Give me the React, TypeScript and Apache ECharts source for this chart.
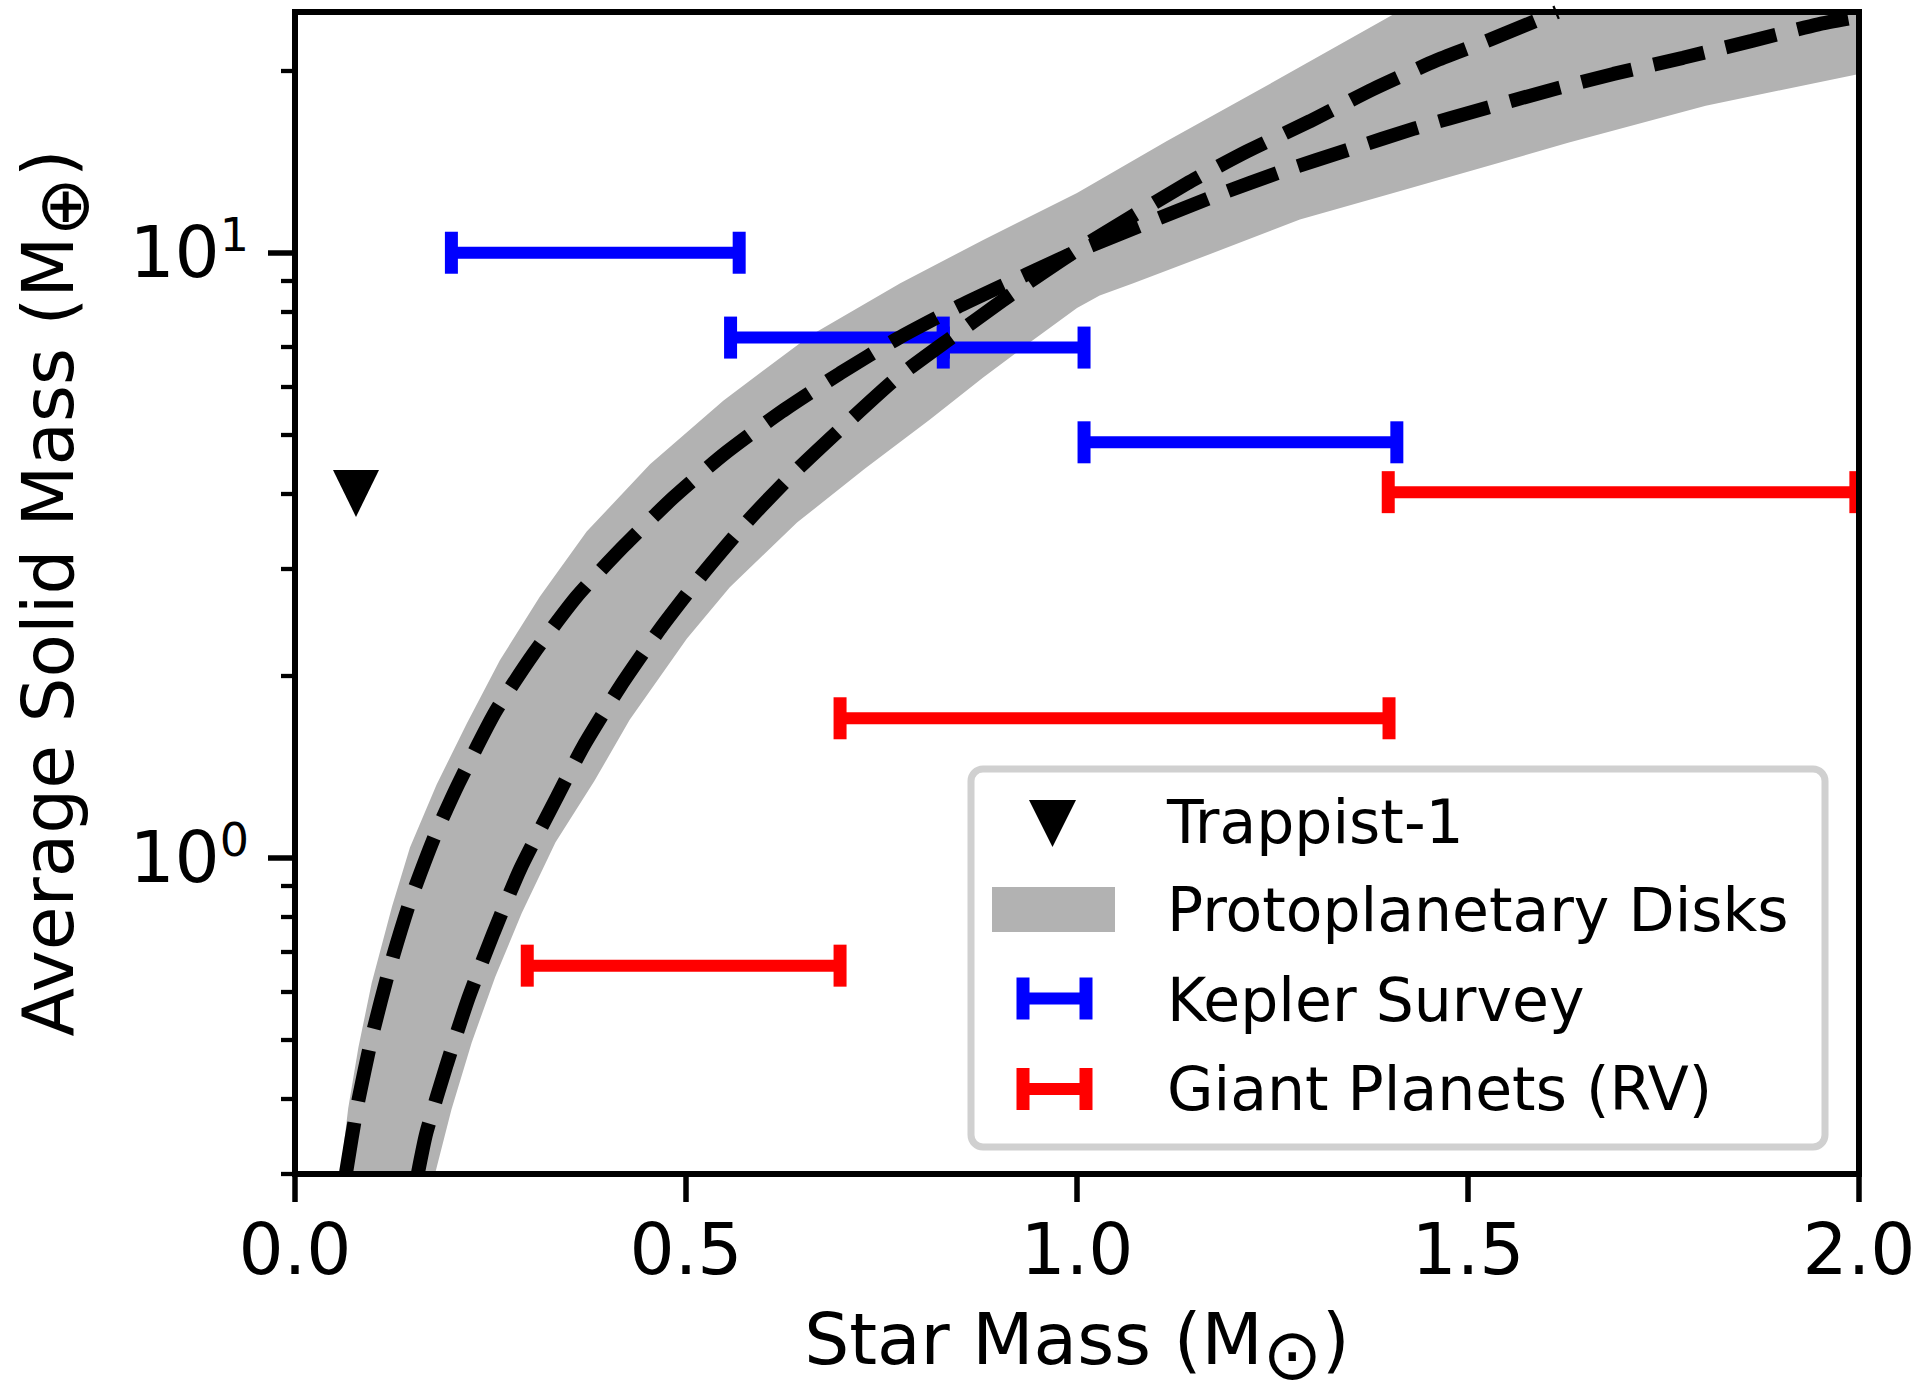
import React, { useEffect, useRef } from "react";
import * as echarts from "echarts";

// ---- Kepler survey: stellar-mass bins and average solid mass (Earth masses)
const keplerStarMin = [0.2, 0.557, 0.829, 1.009];
const keplerStarMax = [0.568, 0.829, 1.009, 1.409];
const keplerSolidMass = [10.0, 7.24, 6.97, 4.86];

// ---- Giant planets (RV): stellar-mass bins and average solid mass
const rvStarMin = [0.297, 0.697, 1.398];
const rvStarMax = [0.697, 1.399, 1.996];
const rvSolidMass = [0.663, 1.7, 4.02];

// ---- Trappist-1
const trappistStarMass = [0.078];
const trappistSolidMass = [4.0];

// ---- Disk solid-mass relation, shallow branch
const diskShallowStar = [
  0.065, 0.079, 0.099, 0.121, 0.147, 0.179, 0.209, 0.256, 0.305, 0.36, 0.42,
  0.484, 0.548, 0.622, 0.697, 0.771, 0.85, 0.927, 1.0, 1.179, 1.264, 1.347,
  1.432, 1.52, 1.604, 1.686, 1.775, 1.863, 1.948, 2.0,
];
const diskShallowSolid = [
  0.3, 0.385, 0.51, 0.657, 0.846, 1.088, 1.325, 1.741, 2.174, 2.7, 3.27, 3.94,
  4.64, 5.46, 6.32, 7.22, 8.17, 9.1, 10.05, 12.45, 13.65, 14.8, 16.05, 17.3,
  18.55, 19.75, 21.0, 22.4, 23.85, 24.55,
];

// ---- Disk solid-mass relation, steep branch
const diskSteepStar = [
  0.157, 0.168, 0.194, 0.222, 0.254, 0.288, 0.335, 0.369, 0.416, 0.467, 0.52,
  0.578, 0.639, 0.705, 0.769, 0.842, 0.914, 1.0, 1.14, 1.217, 1.298, 1.379,
  1.46, 1.528, 1.614,
];
const diskSteepSolid = [
  0.3, 0.351, 0.455, 0.587, 0.752, 0.958, 1.26, 1.53, 1.92, 2.39, 2.93, 3.59,
  4.34, 5.22, 6.2, 7.28, 8.5, 10.1, 13.0, 14.7, 16.5, 18.65, 20.8, 22.49,
  25.0,
];

// ---- Protoplanetary disk band: upper and lower edges
const bandUpperStar = [
  0.058, 0.068, 0.081, 0.098, 0.124, 0.147, 0.181, 0.22, 0.262, 0.313, 0.373,
  0.454, 0.548, 0.659, 0.774, 0.88, 1.0, 1.115, 1.243, 1.41, 2.0,
];
const bandUpperSolid = [
  0.3, 0.385, 0.485, 0.62, 0.83, 1.04, 1.32, 1.67, 2.12, 2.7, 3.46, 4.47, 5.7,
  7.3, 8.9, 10.5, 12.55, 15.3, 18.9, 25.0, 25.0,
];
const bandLowerStar = [
  0.179, 0.2, 0.226, 0.256, 0.29, 0.333, 0.383, 0.428, 0.501, 0.556, 0.642,
  0.729, 0.812, 0.88, 0.94, 1.0, 1.029, 1.072, 1.157, 1.285, 1.4, 1.541, 1.628,
  1.804, 2.0,
];
const bandLowerSolid = [
  0.3, 0.383, 0.495, 0.635, 0.81, 1.06, 1.34, 1.69, 2.3, 2.8, 3.58, 4.4, 5.3,
  6.22, 7.11, 8.1, 8.5, 8.9, 9.8, 11.35, 12.5, 14.1, 15.2, 17.5, 19.75,
];

// ---- Axis ticks
const xTickValues = [0, 0.5, 1.0, 1.5, 2.0];
const yMajorTicks = [1, 10];
const yMinorTicks = [
  0.3, 0.4, 0.5, 0.6, 0.7, 0.8, 0.9, 2, 3, 4, 5, 6, 7, 8, 9, 20,
];

const FONT = "DejaVu Sans";
const BAND_GRAY = "#b2b2b2";

const zip = (xs: number[], ys: number[]) => xs.map((x, i) => [x, ys[i]]);

// Rich styles for axis titles: "sub" is a lowered (subscript) symbol.
const titleRich = {
  sub: {
    fontSize: 71,
    fontFamily: FONT,
    color: "#000",
    height: 41,
    lineHeight: 41,
    verticalAlign: "bottom",
  },
};

function errorBarSeries(
  name: string,
  lo: number[],
  hi: number[],
  y: number[],
  color: string
) {
  return {
    name,
    type: "custom",
    clip: true,
    z: 3,
    encode: { x: [0, 1], y: 2 },
    data: lo.map((v, i) => [v, hi[i], y[i]]),
    renderItem: (_params: any, api: any) => {
      const a = api.coord([api.value(0), api.value(2)]);
      const b = api.coord([api.value(1), api.value(2)]);
      return {
        type: "group",
        children: [
          {
            type: "line",
            shape: { x1: a[0], y1: a[1], x2: b[0], y2: b[1] },
            style: { stroke: color, lineWidth: 12 },
          },
          {
            type: "rect",
            shape: { x: a[0] - 6.5, y: a[1] - 21, width: 13, height: 42 },
            style: { fill: color },
          },
          {
            type: "rect",
            shape: { x: b[0] - 6.5, y: b[1] - 21, width: 13, height: 42 },
            style: { fill: color },
          },
        ],
      };
    },
  };
}

function legendGraphics() {
  const label = (text: string, y: number) => ({
    type: "text",
    z: 51,
    x: 1167,
    y,
    style: {
      text,
      fontSize: 60,
      fontFamily: FONT,
      fill: "#000",
      align: "left",
      verticalAlign: "middle",
    },
  });
  const bar = (y: number, color: string) => [
    {
      type: "line",
      z: 51,
      shape: { x1: 1023, y1: y, x2: 1086, y2: y },
      style: { stroke: color, lineWidth: 12 },
    },
    {
      type: "rect",
      z: 51,
      shape: { x: 1016.5, y: y - 21, width: 13, height: 42 },
      style: { fill: color },
    },
    {
      type: "rect",
      z: 51,
      shape: { x: 1079.5, y: y - 21, width: 13, height: 42 },
      style: { fill: color },
    },
  ];
  return [
    {
      type: "rect",
      z: 50,
      shape: { x: 971, y: 769, width: 854, height: 378, r: 12 },
      style: { fill: "rgba(255,255,255,0.8)", stroke: "#d0d0d0", lineWidth: 7 },
    },
    {
      type: "polygon",
      z: 51,
      shape: {
        points: [
          [1029, 800],
          [1076, 800],
          [1052.5, 847],
        ],
      },
      style: { fill: "#000" },
    },
    label("Trappist-1", 822),
    {
      type: "rect",
      z: 51,
      shape: { x: 992, y: 887, width: 123, height: 45 },
      style: { fill: BAND_GRAY },
    },
    label("Protoplanetary Disks", 910),
    ...bar(998.5, "#0000ff"),
    label("Kepler Survey", 1000),
    ...bar(1089, "#ff0000"),
    label("Giant Planets (RV)", 1089),
  ];
}

export default function App() {
  const ref = useRef<HTMLDivElement>(null);

  useEffect(() => {
    if (!ref.current) return;
    const chart = echarts.init(ref.current, null, { renderer: "svg" });

    const yRange = { min: 0.3, max: 25 };

    const option: any = {
      animation: false,
      backgroundColor: "#fff",
      textStyle: { fontFamily: FONT },
      grid: {
        left: 295,
        right: 62,
        top: 12,
        bottom: 217,
        show: true,
        z: 10,
        backgroundColor: "transparent",
        borderColor: "#000",
        borderWidth: 6,
      },
      xAxis: {
        type: "value",
        min: 0,
        max: 2,
        interval: 0.5,
        axisLine: { show: false },
        splitLine: { show: false },
        axisTick: {
          show: true,
          length: 28,
          lineStyle: { color: "#000", width: 5.5 },
          customValues: xTickValues,
        },
        axisLabel: {
          customValues: xTickValues,
          showMinLabel: true,
          showMaxLabel: true,
          fontSize: 71,
          fontFamily: FONT,
          color: "#000",
          margin: 40,
          formatter: (v: number) => v.toFixed(1),
        },
        name: "Star Mass (M{sub|⊙})",
        nameLocation: "middle",
        nameGap: 130,
        nameTextStyle: {
          fontSize: 71,
          fontFamily: FONT,
          color: "#000",
          lineHeight: 71,
          rich: titleRich,
        },
      },
      yAxis: [
        {
          type: "log",
          position: "left",
          ...yRange,
          axisLine: { show: false },
          splitLine: { show: false },
          axisTick: {
            show: true,
            length: 27,
            lineStyle: { color: "#000", width: 5.5 },
            customValues: yMajorTicks,
          },
          axisLabel: {
            customValues: yMajorTicks,
            margin: 46,
            color: "#000",
            formatter: (v: number) =>
              "{m|10}{s|" + Math.round(Math.log10(v)) + "}",
            rich: {
              m: {
                fontSize: 71,
                fontFamily: FONT,
                color: "#000",
                lineHeight: 71,
              },
              s: {
                fontSize: 46,
                fontFamily: FONT,
                color: "#000",
                height: 36,
                lineHeight: 36,
                verticalAlign: "top",
              },
            },
          },
          name: "Average Solid Mass (M{sub|⊕})",
          nameLocation: "middle",
          nameRotate: 90,
          nameGap: 211,
          nameTextStyle: {
            fontSize: 71,
            fontFamily: FONT,
            color: "#000",
            lineHeight: 71,
            rich: titleRich,
          },
        },
        {
          type: "log",
          position: "left",
          ...yRange,
          axisLine: { show: false },
          splitLine: { show: false },
          axisLabel: { show: false },
          axisTick: {
            show: true,
            length: 14,
            lineStyle: { color: "#000", width: 4.3 },
            customValues: yMinorTicks,
          },
        },
      ],
      series: [
        {
          name: "Protoplanetary Disks",
          type: "custom",
          clip: true,
          z: 1,
          data: [[1, 1]],
          renderItem: (_params: any, api: any) => {
            const upper = bandUpperStar.map((x, i) =>
              api.coord([x, bandUpperSolid[i]])
            );
            const lower = bandLowerStar
              .map((x, i) => api.coord([x, bandLowerSolid[i]]))
              .reverse();
            return {
              type: "polygon",
              shape: { points: upper.concat(lower) },
              style: { fill: BAND_GRAY },
            };
          },
        },
        errorBarSeries(
          "Kepler Survey",
          keplerStarMin,
          keplerStarMax,
          keplerSolidMass,
          "#0000ff"
        ),
        errorBarSeries(
          "Giant Planets (RV)",
          rvStarMin,
          rvStarMax,
          rvSolidMass,
          "#ff0000"
        ),
        {
          name: "Disk relation (shallow)",
          type: "line",
          z: 5,
          symbol: "none",
          clip: true,
          smooth: 0.2,
          data: zip(diskShallowStar, diskShallowSolid),
          lineStyle: { color: "#000", width: 14, type: [52, 22], cap: "butt" },
        },
        {
          name: "Disk relation (steep)",
          type: "line",
          z: 5,
          symbol: "none",
          clip: true,
          smooth: 0.2,
          data: zip(diskSteepStar, diskSteepSolid),
          lineStyle: { color: "#000", width: 14, type: [52, 22], cap: "butt" },
        },
        {
          name: "Trappist-1",
          type: "scatter",
          z: 6,
          symbol: "triangle",
          symbolSize: [46, 47],
          symbolRotate: 180,
          itemStyle: { color: "#000", opacity: 1 },
          data: zip(trappistStarMass, trappistSolidMass),
        },
      ],
      graphic: legendGraphics(),
    };

    chart.setOption(option);
    return () => chart.dispose();
  }, []);

  return (
    <div
      ref={ref}
      style={{
        position: "absolute",
        left: 0,
        top: 0,
        width: 1921,
        height: 1395,
        background: "#fff",
      }}
    />
  );
}
